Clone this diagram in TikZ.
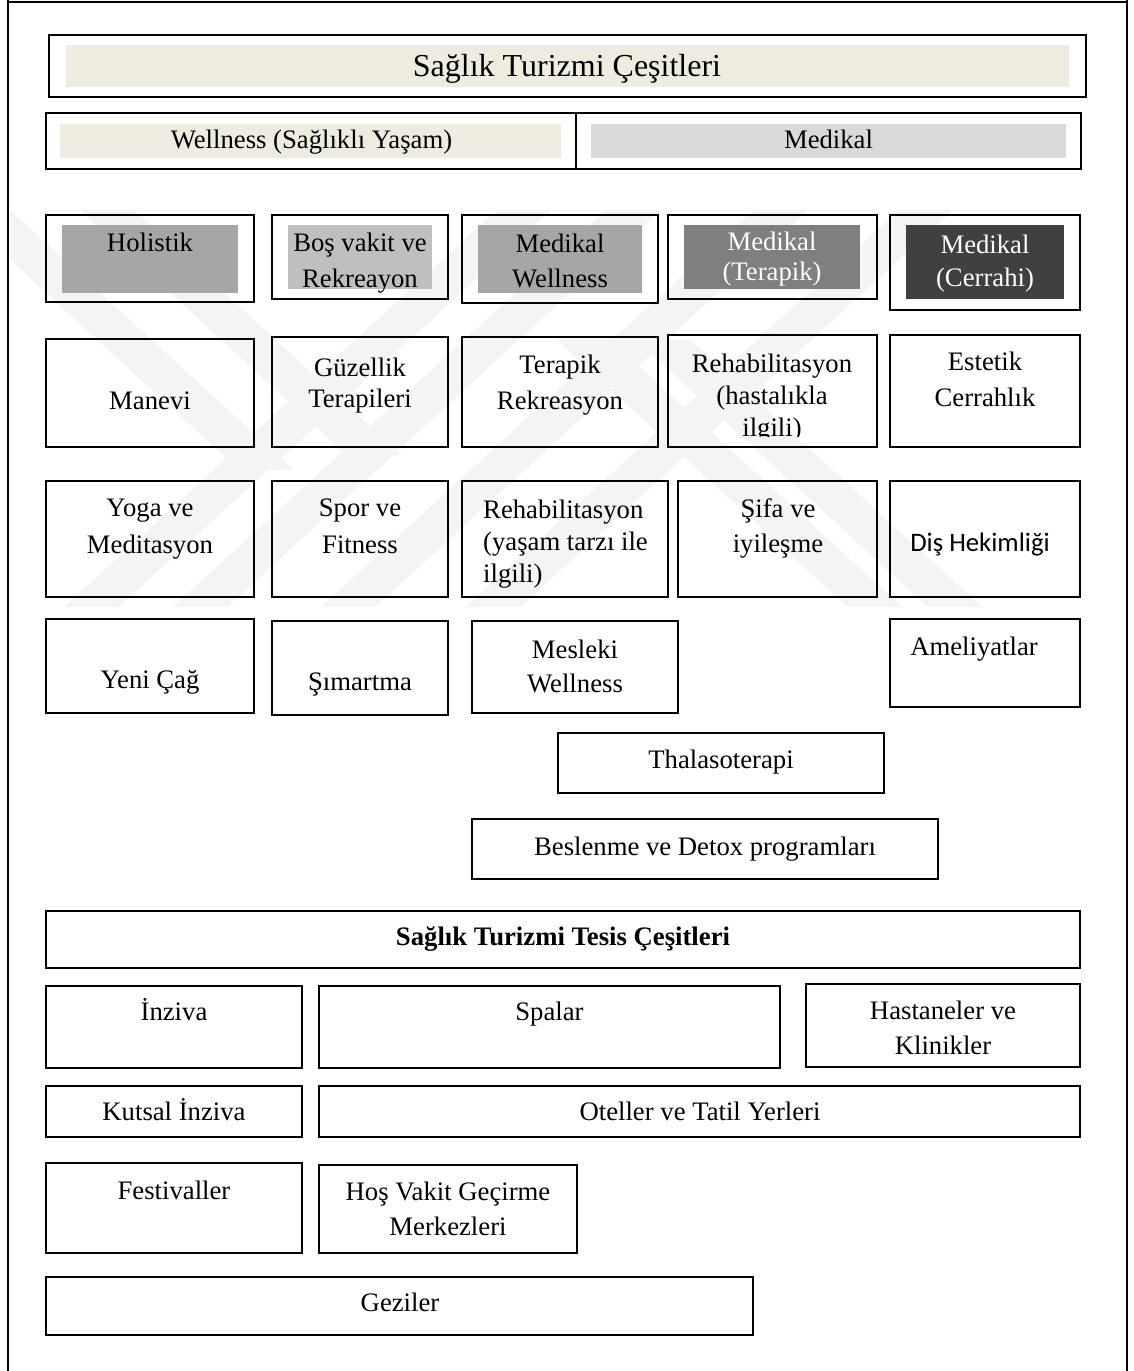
\documentclass[tikz,border=0pt]{standalone}
\usepackage{fontspec}
\setmainfont{Liberation Serif}
\newfontfamily\calibrilike{Carlito}
\newcommand\bodysize{\fontsize{26.7}{32}\selectfont}
\newcommand\titlesize{\fontsize{32}{38}\selectfont}
\definecolor{tanfill}{HTML}{EEECE1}
\definecolor{medfill}{HTML}{D9D9D9}
\definecolor{midgray}{HTML}{A6A6A6}
\definecolor{lightgray}{HTML}{BFBFBF}
\definecolor{darkgray}{HTML}{7F7F7F}
\definecolor{deepgray}{HTML}{404040}
\definecolor{marks}{HTML}{F4F4F4}
\begin{document}
\begin{tikzpicture}[x=1pt,y=-1pt,
  cell/.style={draw=black, line width=1.5pt},
  txt/.style={anchor=base, inner sep=0pt, font=\bodysize},
  wtxt/.style={txt, text=white}]
\useasboundingbox (0,0) rectangle (1133,1371);
\fill[white] (0,0) rectangle (1133,1371);

% faint diagonal stripes in the background
\begin{scope}
  \clip (10,210) rectangle (1125,606);
  \fill[marks] (502.5,205) -- (556.5,205) -- (109.5,615) -- (55.5,615) -- cycle;
  \fill[marks] (611.5,205) -- (665.5,205) -- (218.5,615) -- (164.5,615) -- cycle;
  \fill[marks] (759.5,205) -- (813.5,205) -- (366.5,615) -- (312.5,615) -- cycle;
  \fill[marks] (904.5,205) -- (958.5,205) -- (511.5,615) -- (457.5,615) -- cycle;
  \fill[marks] (-49.5,205) -- (4.5,205) -- (293.4,470) -- (239.4,470) -- cycle;
  \fill[marks] (74.5,205) -- (128.5,205) -- (401,455) -- (347,455) -- cycle;
  \fill[marks] (556.75,340) -- (610.75,340) -- (910.5,615) -- (856.5,615) -- cycle;
  \fill[marks] (636.75,340) -- (690.75,340) -- (990.5,615) -- (936.5,615) -- cycle;
\end{scope}

% page frame
\draw[line width=2pt] (8,1.5) -- (1127,1.5);
\draw[line width=2pt] (8,0) -- (8,1371);
\draw[line width=2pt] (1127,0) -- (1127,1371);

% heading
\fill[tanfill] (66,45) rectangle (1069,87);
\draw[cell, line width=2pt] (49,35) rectangle (1086,97);
\node[txt, font=\titlesize] (title) at (567,76) {Sağlık Turizmi Çeşitleri};

% wellness / medical split
\fill[tanfill] (60,124) rectangle (561,158);
\fill[medfill] (591,124) rectangle (1066,158);
\draw[cell] (46,113) rectangle (1081,169);
\draw[cell] (576,113) -- (576,169);
\node[txt] (wellness) at (311.5,148) {Wellness (Sağlıklı Yaşam)};
\node[txt] (medikal) at (828.5,148) {Medikal};

% category row
\fill[midgray] (62,225) rectangle (238,293);
\draw[cell] (46,215) rectangle (254,302);
\node[txt] (holistik) at (150,251) {Holistik};

\fill[lightgray] (288,225) rectangle (432,289);
\draw[cell] (272,215) rectangle (448,299);
\node[txt] (bos1) at (360,251) {Boş vakit ve};
\node[txt] (bos2) at (360,287) {Rekreayon};

\fill[midgray] (478,225) rectangle (642,293);
\draw[cell] (462,215) rectangle (658,303);
\node[txt] (mw1) at (560,252) {Medikal};
\node[txt] (mw2) at (560,287) {Wellness};

\fill[darkgray] (684,225) rectangle (860,289);
\draw[cell] (668,215) rectangle (877,299);
\node[wtxt] (mt1) at (772,250) {Medikal};
\node[wtxt] (mt2) at (772,280) {(Terapik)};

\fill[deepgray] (906,225) rectangle (1064,299);
\draw[cell] (890,215) rectangle (1080,310);
\node[wtxt] (mc1) at (985,253) {Medikal};
\node[wtxt] (mc2) at (985,286) {(Cerrahi)};

% second row
\draw[cell] (46,339) rectangle (254,447);
\node[txt] (manevi) at (150,409) {Manevi};
\draw[cell] (272,337) rectangle (448,447);
\node[txt] (guz1) at (360,376) {Güzellik};
\node[txt] (guz2) at (360,407) {Terapileri};
\draw[cell] (462,337) rectangle (658,447);
\node[txt] (ter1) at (560,373) {Terapik};
\node[txt] (ter2) at (560,409) {Rekreasyon};
\draw[cell] (668,335) rectangle (877,447);
\begin{scope}
  \clip (668,335) rectangle (877,436);
  \node[txt] (reh1) at (772,372) {Rehabilitasyon};
  \node[txt] (reh2) at (772,404) {(hastalıkla};
  \node[txt] (reh3) at (772,436) {ilgili)};
\end{scope}
\draw[cell] (890,335) rectangle (1080,447);
\node[txt] (est1) at (985,370) {Estetik};
\node[txt] (est2) at (985,406) {Cerrahlık};

% third row
\draw[cell] (46,481) rectangle (254,597);
\node[txt] (yoga1) at (150,516) {Yoga ve};
\node[txt] (yoga2) at (150,553) {Meditasyon};
\draw[cell] (272,481) rectangle (448,597);
\node[txt] (spor1) at (360,516) {Spor ve};
\node[txt] (spor2) at (360,553) {Fitness};
\draw[cell] (462,481) rectangle (668,597);
\node[txt, anchor=base west] (ry1) at (483,518) {Rehabilitasyon};
\node[txt, anchor=base west] (ry2) at (483,550) {(yaşam tarzı ile};
\node[txt, anchor=base west] (ry3) at (483,582) {ilgili)};
\draw[cell] (678,481) rectangle (877,597);
\node[txt] (sifa1) at (778,517) {Şifa ve};
\node[txt] (sifa2) at (778,552) {iyileşme};
\draw[cell] (890,481) rectangle (1080,597);
\node[txt, font=\calibrilike\bodysize] (dis) at (980,551) {Diş Hekimliği};

% fourth row
\draw[cell] (46,619) rectangle (254,713);
\node[txt] (yeni) at (150,688) {Yeni Çağ};
\draw[cell] (272,621) rectangle (448,715);
\node[txt] (simartma) at (360,690) {Şımartma};
\draw[cell] (472,621) rectangle (678,713);
\node[txt] (mes1) at (575,658) {Mesleki};
\node[txt] (mes2) at (575,692) {Wellness};
\draw[cell] (890,619) rectangle (1080,707);
\node[txt] (amel) at (974,655) {Ameliyatlar};

\draw[cell] (558,733) rectangle (884,793);
\node[txt] (thala) at (721,768) {Thalasoterapi};
\draw[cell] (472,819) rectangle (938,879);
\node[txt] (besl) at (705,855) {Beslenme ve Detox programları};

% facility types
\draw[cell] (46,911) rectangle (1080,968);
\node[txt, font=\bfseries\bodysize] (tesis) at (563,945) {Sağlık Turizmi Tesis Çeşitleri};

\draw[cell] (46,986) rectangle (302,1068);
\node[txt] (inziva) at (174,1020) {İnziva};
\draw[cell] (319,986) rectangle (780,1068);
\node[txt] (spalar) at (549.5,1020) {Spalar};
\draw[cell] (806,984) rectangle (1080,1067);
\node[txt] (hast1) at (943,1019) {Hastaneler ve};
\node[txt] (hast2) at (943,1054) {Klinikler};

\draw[cell] (46,1086) rectangle (302,1137);
\node[txt] (kutsal) at (174,1120) {Kutsal İnziva};
\draw[cell] (319,1086) rectangle (1080,1137);
\node[txt] (otel) at (700,1120) {Oteller ve Tatil Yerleri};

\draw[cell] (46,1163) rectangle (302,1253);
\node[txt] (fest) at (174,1199) {Festivaller};
\draw[cell] (319,1165) rectangle (577,1253);
\node[txt] (hos1) at (448,1200) {Hoş Vakit Geçirme};
\node[txt] (hos2) at (448,1235) {Merkezleri};

\draw[cell] (46,1277) rectangle (753,1335);
\node[txt] (gezi) at (400,1311) {Geziler};
\end{tikzpicture}
\end{document}
